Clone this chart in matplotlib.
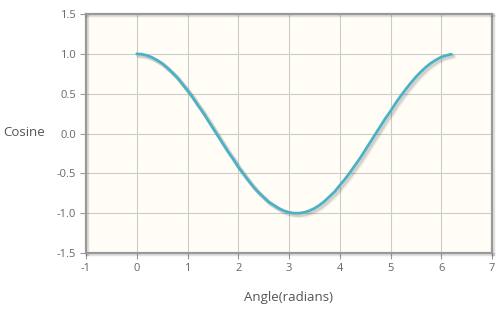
import matplotlib
matplotlib.use("Agg")
import matplotlib.pyplot as plt
import matplotlib.patheffects as pe

x_vals = [0.0, 0.1, 0.2, 0.3, 0.4, 0.5, 0.6, 0.7, 0.8, 0.9,
          1.0, 1.1, 1.2, 1.3, 1.4, 1.5, 1.6, 1.7, 1.8, 1.9,
          2.0, 2.1, 2.2, 2.3, 2.4, 2.5, 2.6, 2.7, 2.8, 2.9,
          3.0, 3.1, 3.2, 3.3, 3.4, 3.5, 3.6, 3.7, 3.8, 3.9,
          4.0, 4.1, 4.2, 4.3, 4.4, 4.5, 4.6, 4.7, 4.8, 4.9,
          5.0, 5.1, 5.2, 5.3, 5.4, 5.5, 5.6, 5.7, 5.8, 5.9,
          6.0, 6.1, 6.2]
cos_vals = [1.00, 0.995, 0.98, 0.955, 0.92, 0.88, 0.825, 0.765, 0.70, 0.62,
            0.54, 0.455, 0.36, 0.27, 0.17, 0.07, -0.03, -0.13, -0.23, -0.32,
            -0.42, -0.505, -0.59, -0.67, -0.74, -0.80, -0.86, -0.90, -0.94, -0.97,
            -0.99, -1.00, -1.00, -0.99, -0.97, -0.94, -0.90, -0.85, -0.79, -0.73,
            -0.65, -0.575, -0.49, -0.40, -0.31, -0.21, -0.11, -0.01, 0.09, 0.19,
            0.28, 0.38, 0.47, 0.555, 0.635, 0.71, 0.775, 0.835, 0.885, 0.925,
            0.96, 0.98, 0.995]
x_ticks = [-1, 0, 1, 2, 3, 4, 5, 6, 7]
y_ticks = [-1.5, -1.0, -0.5, 0.0, 0.5, 1.0, 1.5]

plt.rcParams['font.family'] = ['Open Sans', 'DejaVu Sans']

fig = plt.figure(figsize=(5.01, 3.10), dpi=100)
fig.patch.set_facecolor('white')
ax = fig.add_axes([86/501, 1-253/310, (492-86)/501, (253-14)/310])
ax.set_facecolor('#fffdf6')

ax.plot(x_vals, cos_vals, color='#4bb2c5', lw=2.0, solid_capstyle='round',
        path_effects=[pe.SimpleLineShadow(offset=(1.2, -1.2), shadow_color='k', alpha=0.12, linewidth=3),
                      pe.SimpleLineShadow(offset=(2.0, -2.0), shadow_color='k', alpha=0.06, linewidth=3),
                      pe.Normal()], zorder=3)

ax.set_xlim(-1, 7)
ax.set_ylim(-1.5, 1.5)
ax.set_xticks(x_ticks)
ax.set_yticks(y_ticks)
ax.set_xticklabels([str(v) for v in x_ticks])
ax.set_yticklabels([f"{v:.1f}" for v in y_ticks])
ax.grid(True, color='#cccccc', lw=0.8)
ax.set_axisbelow(True)

for s in ax.spines.values():
    s.set_color('#999999')
    s.set_linewidth(1.6)
    s.set_path_effects([pe.SimpleLineShadow(offset=(1, -1), shadow_color='k', alpha=0.12, linewidth=2.5), pe.Normal()])

ax.tick_params(axis='both', colors='#999999', labelcolor='#666666', labelsize=8,
               length=4, width=0.8, direction='out', pad=3)

fig.text(24/501, 1-133/310, 'Cosine', ha='center', va='center', fontsize=9.5, color='#555555')
fig.text(289/501, 1-297/310, 'Angle(radians)', ha='center', va='center', fontsize=9.5, color='#555555')

fig.savefig('out.png', dpi=100)
